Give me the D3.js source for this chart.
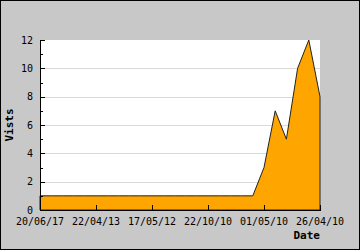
<!DOCTYPE html>
<html><head><meta charset="utf-8">
<script src="https://cdn.jsdelivr.net/npm/d3@7"></script>
<style>html,body{margin:0;padding:0;background:#c8c8c8;}svg{display:block;}</style>
</head><body>
<svg id="c" width="360" height="250"></svg>
<script>
const pointIndex = d3.range(26);
const visits = [1,1,1,1,1,1,1,1,1,1,1,1,1,1,1,1,1,1,1,1,3,7,5,10,12,8];
const tickIndex = [0,5,10,15,20,25];
const tickLabels = ["20/06/17","22/04/13","17/05/12","22/10/10","01/05/10","26/04/10"];
const yTicks = [0,2,4,6,8,10,12];
const yMinor = [1,3,5,7,9,11];

const svg = d3.select("#c");
const L = 40, R = 320, T = 40, B = 210;
const x = d3.scaleLinear().domain([0,25]).range([L,R]);
const y = d3.scaleLinear().domain([0,12]).range([B,T]);
const font = "'DejaVu Sans Mono', monospace";

svg.append("rect").attr("x",0.5).attr("y",0.5).attr("width",359).attr("height",249)
  .attr("fill","#c8c8c8").attr("stroke","#000");
svg.append("rect").attr("x",L).attr("y",T).attr("width",R-L).attr("height",B-T).attr("fill","#fff");

// gridlines
svg.append("g").selectAll("line").data(yTicks.filter(v=>v>0 && v<12)).join("line")
  .attr("x1",L).attr("x2",R).attr("y1",d=>Math.round(y(d))+0.5).attr("y2",d=>Math.round(y(d))+0.5)
  .attr("stroke","#d9d9d9");

// area
const area = d3.area().x((d,i)=>x(pointIndex[i])).y0(y(0)).y1(d=>y(d));
svg.append("path").datum(visits).attr("d",area).attr("fill","#ffa500")
  .attr("stroke","#222").attr("stroke-width",1).attr("stroke-linejoin","miter");

// axes lines
svg.append("line").attr("x1",L+0.5).attr("x2",L+0.5).attr("y1",T).attr("y2",B+1).attr("stroke","#000");
svg.append("line").attr("x1",L).attr("x2",R+1).attr("y1",B+0.5).attr("y2",B+0.5).attr("stroke","#000");

// y ticks
svg.append("g").selectAll("line").data(yTicks).join("line")
  .attr("x1",L).attr("x2",L+5).attr("y1",d=>Math.round(y(d))+0.5).attr("y2",d=>Math.round(y(d))+0.5).attr("stroke","#000");
svg.append("g").selectAll("line").data(yMinor).join("line")
  .attr("x1",L).attr("x2",L+3).attr("y1",d=>Math.round(y(d))+0.5).attr("y2",d=>Math.round(y(d))+0.5).attr("stroke","#000");
svg.append("g").selectAll("text").data(yTicks).join("text")
  .attr("x",33).attr("y",d=>y(d)+3.5).attr("text-anchor","end")
  .attr("font-family",font).attr("font-size",10).attr("fill","#000").text(d=>d);

// x ticks
svg.append("g").selectAll("line").data(tickIndex).join("line")
  .attr("x1",d=>Math.round(x(d))+0.5).attr("x2",d=>Math.round(x(d))+0.5).attr("y1",B-5).attr("y2",B).attr("stroke","#000");
svg.append("g").selectAll("text").data(tickIndex).join("text")
  .attr("x",d=>x(d)).attr("y",225).attr("text-anchor","middle")
  .attr("font-family",font).attr("font-size",10).attr("fill","#000").text((d,i)=>tickLabels[i]);

// titles
svg.append("text").attr("transform","translate(13,125) rotate(-90)").attr("text-anchor","middle")
  .attr("font-family",font).attr("font-size",11).attr("font-weight","bold").text("Vists");
svg.append("text").attr("x",R).attr("y",239).attr("text-anchor","end")
  .attr("font-family",font).attr("font-size",11).attr("font-weight","bold").text("Date");
</script>
</body></html>
